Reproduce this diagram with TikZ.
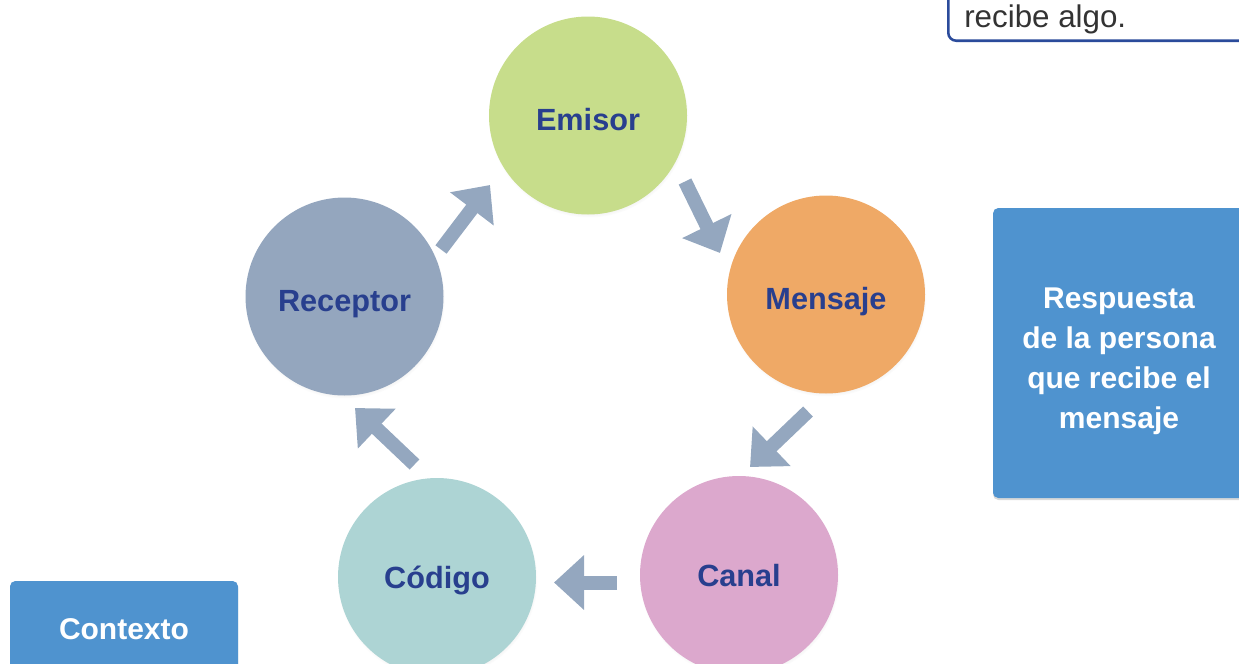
\documentclass[tikz,border=0pt]{standalone}
\usepackage{fontspec}
\setmainfont{Liberation Sans}
\usetikzlibrary{arrows.meta,shadows}
\definecolor{cEmisor}{HTML}{C7DD8B}
\definecolor{cMensaje}{HTML}{EFA966}
\definecolor{cReceptor}{HTML}{94A6BE}
\definecolor{cCanal}{HTML}{DCA8CD}
\definecolor{cCodigo}{HTML}{ADD4D4}
\definecolor{arrowc}{HTML}{94A7BF}
\definecolor{boxblue}{HTML}{4F93CF}
\definecolor{labelblue}{HTML}{283F8E}
\definecolor{frameblue}{HTML}{2B4B9B}
\definecolor{textgray}{HTML}{333333}
\begin{document}
\begin{tikzpicture}[x=0.75pt,y=-0.75pt,
  bubble/.style={circle, minimum size=148.5pt, inner sep=0pt, text=labelblue,
    text height=26.75pt, text depth=5pt,
    font=\fontsize{23}{27}\selectfont\bfseries,
    circular drop shadow={shadow xshift=0.4pt, shadow yshift=-1.6pt, shadow scale=1.01, opacity=0.3}},
  lowbubble/.style={bubble, text height=22pt},
  infobox/.style={rectangle, rounded corners=4pt, fill=boxblue, inner sep=0pt,
    drop shadow={shadow xshift=0pt, shadow yshift=-1.5pt, opacity=0.3}},
  infotext/.style={text=white, font=\fontsize{22.5}{30}\selectfont\bfseries, align=center, inner sep=0pt},
  framebox/.style={rectangle, rounded corners=6pt, draw=frameblue, line width=1.9pt, fill=white, inner sep=0pt},
  notetext/.style={text=textgray, font=\fontsize{23.5}{28}\selectfont, inner sep=0pt},
  flow/.style={draw=arrowc, line width=10.5pt, -{Triangle[width=39.75pt,length=22.5pt]}}
]
\useasboundingbox (0,0) rectangle (1239,664);
\clip (0,0) rectangle (1239,664);

% note box (top right)
\node[framebox, minimum width=240pt, minimum height=80pt, anchor=south west] (nota) at (947,42) {};
\node[notetext, anchor=base west] (notatxt) at (964,27) {recibe algo.};

% circles
\node[bubble, fill=cEmisor]      (emisor)   at (588,115.5) {Emisor};
\node[bubble, fill=cMensaje]     (mensaje)  at (826,294.5) {Mensaje};
\node[bubble, fill=cReceptor]    (receptor) at (344.5,296.5) {Receptor};
\node[lowbubble, fill=cCanal]    (canal)    at (739,575) {Canal};
\node[lowbubble, fill=cCodigo]   (codigo)   at (437,577) {Código};

% arrow end points
\coordinate (a1s) at (441,249.5);  \coordinate (a1e) at (490,185);
\coordinate (a2s) at (685,181.5);  \coordinate (a2e) at (720,253);
\coordinate (a3s) at (808,411.5);  \coordinate (a3e) at (750,467);
\coordinate (a4s) at (617,582.5);  \coordinate (a4e) at (554,582.5);
\coordinate (a5s) at (414.5,464.5);\coordinate (a5e) at (355,408);

\draw[flow] (a1s) -- (a1e);
\draw[flow] (a2s) -- (a2e);
\draw[flow] (a3s) -- (a3e);
\draw[flow] (a4s) -- (a4e);
\draw[flow] (a5s) -- (a5e);

% blue boxes
\node[infobox, minimum width=189pt, minimum height=217.5pt] (respuesta) at (1119,353) {};
\node[infotext] (respuestatxt) at (1119,361) {Respuesta\\de la persona\\que recibe el\\mensaje};
\node[infobox, minimum width=171pt, minimum height=72pt] (contexto) at (124,629) {};
\node[infotext] (contextotxt) at (124,629) {Contexto};
\end{tikzpicture}
\end{document}
